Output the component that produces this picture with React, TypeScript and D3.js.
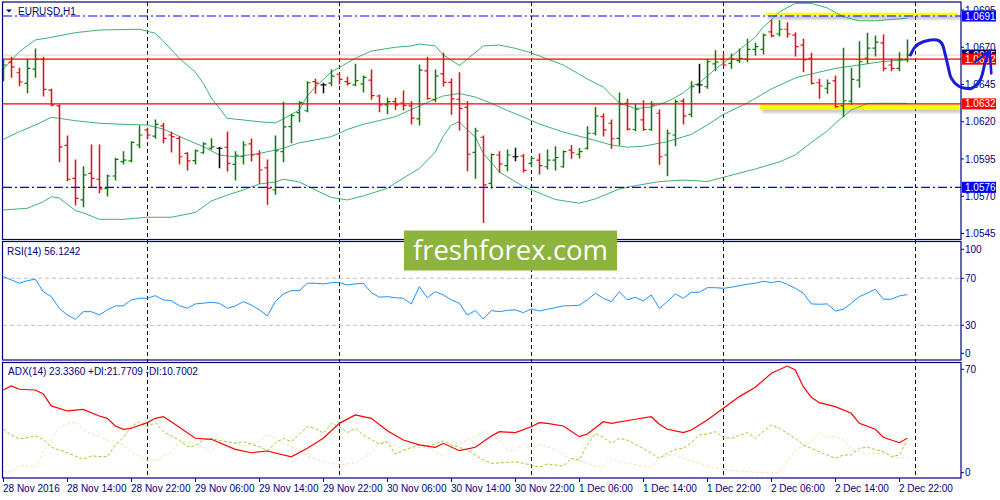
import { useEffect, useRef } from "react"
import * as d3 from "d3"

// ---- chart data (EURUSD H1, 28 Nov 06:00 .. 2 Dec 23:00) ----
const timeLabels = [
  "28 Nov 2016", "28 Nov 14:00", "28 Nov 22:00", "29 Nov 06:00", "29 Nov 14:00",
  "29 Nov 22:00", "30 Nov 06:00", "30 Nov 14:00", "30 Nov 22:00", "1 Dec 06:00",
  "1 Dec 14:00", "1 Dec 22:00", "2 Dec 06:00", "2 Dec 14:00", "2 Dec 22:00",
]

const barOpen = [
  1.06514, 1.06601, 1.06529, 1.06458, 1.06554, 1.06619, 1.06413, 1.06306, 1.06042, 1.0582,
  1.05675, 1.05854, 1.05814, 1.05753, 1.05836, 1.05932, 1.05937, 1.06044, 1.06145, 1.06104,
  1.06172, 1.06111, 1.06089, 1.05988, 1.05939, 1.05992, 1.06022, 1.06022, 1.06029, 1.05914,
  1.05965, 1.06051, 1.05982, 1.0589, 1.05742, 1.05999, 1.06167, 1.06261, 1.06274, 1.06469,
  1.06447, 1.0646, 1.06519, 1.06469, 1.06447, 1.06454, 1.0648, 1.06373, 1.06313, 1.06335,
  1.06326, 1.06306, 1.06219, 1.06541, 1.06349, 1.06521, 1.06464, 1.06351, 1.06297, 1.05995,
  1.06096, 1.05787, 1.05977, 1.05905, 1.05965, 1.0597, 1.05921, 1.05943, 1.05898, 1.05943,
  1.05898, 1.0601, 1.05982, 1.06022, 1.06123, 1.06234, 1.0619, 1.06089, 1.06324, 1.06148,
  1.06212, 1.06148, 1.06257, 1.05977, 1.06111, 1.06339, 1.0625, 1.06447, 1.06435, 1.06588,
  1.06619, 1.06592, 1.0661, 1.06619, 1.06686, 1.06686, 1.06803, 1.06789, 1.06821, 1.06782,
  1.06715, 1.06626, 1.06462, 1.06425, 1.06474, 1.06306, 1.06339, 1.0648, 1.06628, 1.06695,
  1.06729, 1.06581, 1.06559, 1.06619,
]
const barHigh = [
  1.06619, 1.06633, 1.06559, 1.06619, 1.06688, 1.06633, 1.06418, 1.06313, 1.06104, 1.05943,
  1.05898, 1.06044, 1.06044, 1.05843, 1.05955, 1.05999, 1.06066, 1.06172, 1.06156, 1.06212,
  1.0619, 1.06129, 1.061, 1.05992, 1.0601, 1.06059, 1.06086, 1.06029, 1.06131, 1.05999,
  1.06066, 1.06084, 1.06006, 1.05943, 1.06104, 1.06331, 1.0625, 1.06335, 1.06469, 1.06485,
  1.06458, 1.06547, 1.06521, 1.06498, 1.06586, 1.06507, 1.06547, 1.0638, 1.06358, 1.06358,
  1.06407, 1.06335, 1.06581, 1.06633, 1.06547, 1.0666, 1.06487, 1.06529, 1.06335, 1.06156,
  1.06104, 1.05984, 1.05999, 1.0601, 1.06022, 1.0598, 1.05963, 1.05984, 1.0601, 1.06033,
  1.06004, 1.06041, 1.06021, 1.06167, 1.06296, 1.06252, 1.06212, 1.06393, 1.06351, 1.06319,
  1.06341, 1.06335, 1.06279, 1.06145, 1.06346, 1.06353, 1.06469, 1.06586, 1.06619, 1.06677,
  1.06648, 1.06655, 1.06688, 1.06754, 1.06727, 1.06789, 1.06883, 1.06878, 1.06865, 1.06798,
  1.06754, 1.0666, 1.06485, 1.0648, 1.06507, 1.06693, 1.06559, 1.06737, 1.06794, 1.06776,
  1.06782, 1.06619, 1.06664, 1.06749,
]
const barLow = [
  1.06476, 1.06498, 1.06442, 1.06395, 1.06498, 1.06373, 1.06308, 1.05932, 1.05804, 1.05641,
  1.0563, 1.05764, 1.05724, 1.05702, 1.05809, 1.05916, 1.05932, 1.06026, 1.06086, 1.06089,
  1.06059, 1.05997, 1.05916, 1.05876, 1.05916, 1.05988, 1.06015, 1.05892, 1.05869, 1.05809,
  1.05916, 1.05937, 1.05787, 1.05646, 1.05713, 1.05932, 1.06059, 1.062, 1.06268, 1.06391,
  1.06395, 1.06442, 1.06454, 1.06447, 1.06442, 1.064, 1.06351, 1.06268, 1.06254, 1.06284,
  1.06279, 1.06185, 1.06178, 1.06351, 1.06335, 1.0644, 1.0625, 1.06145, 1.05871, 1.0582,
  1.05524, 1.05753, 1.05861, 1.05871, 1.05939, 1.05863, 1.05898, 1.05849, 1.05883, 1.05876,
  1.05894, 1.05955, 1.05957, 1.06015, 1.06111, 1.06104, 1.06022, 1.06044, 1.06145, 1.0614,
  1.06143, 1.06143, 1.05914, 1.05838, 1.06039, 1.06185, 1.06234, 1.06395, 1.06425, 1.06543,
  1.06576, 1.06559, 1.06597, 1.06603, 1.06648, 1.06655, 1.06771, 1.06776, 1.06767, 1.06641,
  1.06536, 1.06454, 1.06358, 1.06391, 1.06297, 1.06234, 1.06317, 1.06431, 1.06592, 1.06641,
  1.06543, 1.06543, 1.06543, 1.06603,
]
const barClose = [
  1.06581, 1.06568, 1.06467, 1.06559, 1.06619, 1.06418, 1.06313, 1.06031, 1.05814, 1.05686,
  1.05843, 1.0582, 1.05749, 1.05836, 1.05948, 1.05943, 1.06061, 1.06111, 1.06111, 1.06183,
  1.06089, 1.061, 1.05965, 1.05937, 1.06004, 1.06051, 1.06031, 1.06022, 1.05921, 1.05975,
  1.06044, 1.05977, 1.05876, 1.05753, 1.06004, 1.06165, 1.06241, 1.06328, 1.06462, 1.0646,
  1.06447, 1.06507, 1.06485, 1.06458, 1.06476, 1.06498, 1.06376, 1.06313, 1.06335, 1.06313,
  1.06309, 1.06225, 1.06547, 1.06356, 1.06507, 1.06465, 1.06353, 1.0629, 1.05982, 1.06138,
  1.05776, 1.0598, 1.05916, 1.05977, 1.05965, 1.05874, 1.05955, 1.05906, 1.05943, 1.05959,
  1.05999, 1.05992, 1.05999, 1.06123, 1.06239, 1.06145, 1.06086, 1.06319, 1.0615, 1.06284,
  1.06148, 1.06313, 1.05965, 1.06123, 1.06335, 1.06239, 1.06435, 1.06447, 1.06603, 1.06601,
  1.06581, 1.06619, 1.06626, 1.06686, 1.06704, 1.06782, 1.06776, 1.06821, 1.06789, 1.06704,
  1.06615, 1.06458, 1.0644, 1.06458, 1.06301, 1.06341, 1.06484, 1.06603, 1.06695, 1.06735,
  1.06559, 1.06559, 1.06619, 1.06648,
]

// Bollinger bands as [bar, price]
const bbUpper: [number, number][] = [
  [0, 1.06552], [2, 1.0667], [4, 1.06749], [6, 1.06767], [9, 1.06798], [12, 1.06816], [17, 1.06821],
  [19, 1.06794], [20, 1.06742], [22, 1.06626], [24, 1.06534], [25, 1.06458], [26, 1.0636], [28, 1.06223],
  [30, 1.06212], [32, 1.062], [34, 1.06192], [35, 1.06219], [37, 1.06279], [38, 1.06373], [39, 1.06433],
  [41, 1.06534], [44, 1.06626], [46, 1.06675], [49, 1.067], [51, 1.06709], [52, 1.06722], [54, 1.06709],
  [55, 1.06648], [57, 1.06578], [58, 1.06621], [60, 1.06709], [62, 1.06715], [64, 1.06693], [66, 1.06662],
  [70, 1.06581], [72, 1.06519], [73, 1.06487], [75, 1.06433], [77, 1.06326], [79, 1.06289], [81, 1.06299],
  [83, 1.06335], [85, 1.06393], [86, 1.0644], [87, 1.0646], [88, 1.06507], [89, 1.06554], [90, 1.06594],
  [92, 1.06682], [94, 1.06769], [95, 1.06836], [96, 1.06883], [97, 1.06937], [99, 1.06995], [101, 1.06995],
  [103, 1.06964], [105, 1.06905], [107, 1.06878], [109, 1.06878], [113, 1.06895],
]
const bbMiddle: [number, number][] = [
  [0, 1.06082], [2, 1.06133], [4, 1.06178], [6, 1.0623], [7, 1.06223], [9, 1.06207], [12, 1.0619],
  [15, 1.06183], [18, 1.06178], [20, 1.06151], [23, 1.06078], [25, 1.06033], [27, 1.05977], [29, 1.05965],
  [32, 1.05987], [35, 1.06022], [37, 1.06059], [39, 1.06078], [41, 1.061], [43, 1.06148], [45, 1.06183],
  [47, 1.06208], [49, 1.06234], [51, 1.06282], [54, 1.06353], [55, 1.06373], [57, 1.0639], [59, 1.06366],
  [61, 1.06324], [63, 1.06276], [65, 1.06232], [67, 1.06185], [70, 1.06131], [73, 1.06089], [76, 1.06044],
  [78, 1.06029], [80, 1.06036], [83, 1.06066], [86, 1.06115], [88, 1.06178], [90, 1.06249], [93, 1.06326],
  [96, 1.0642], [99, 1.06494], [101, 1.06521], [104, 1.06558], [107, 1.06581], [110, 1.06605], [113, 1.06615],
]
const bbLower: [number, number][] = [
  [0, 1.05608], [3, 1.05619], [5, 1.05663], [6, 1.05697], [7, 1.05688], [9, 1.05604], [10, 1.05588],
  [12, 1.05545], [15, 1.05545], [18, 1.05559], [21, 1.05559], [24, 1.05591], [26, 1.05668], [28, 1.05708],
  [30, 1.05742], [32, 1.05782], [34, 1.05796], [35, 1.05814], [37, 1.05796], [39, 1.05742], [41, 1.05692],
  [43, 1.05675], [45, 1.05702], [48, 1.05753], [50, 1.05822], [52, 1.05886], [54, 1.05997], [55, 1.06104],
  [56, 1.06178], [57, 1.062], [58, 1.06145], [59, 1.06098], [60, 1.05988], [62, 1.05863], [65, 1.05765],
  [69, 1.05678], [72, 1.05653], [74, 1.05682], [77, 1.05749], [79, 1.05771], [82, 1.05798], [85, 1.05809],
  [88, 1.05799], [90, 1.05827], [94, 1.05883], [97, 1.0593], [99, 1.05977], [101, 1.06061], [103, 1.06138],
  [104, 1.0619], [106, 1.06279], [108, 1.06323], [110, 1.06324], [113, 1.06324],
]

const rsiValues = [
  71.4, 68.6, 65.8, 68.0, 69.2, 58.6, 54.4, 44.5, 38.8, 35.1, 41.6, 41.6, 38.8, 43.1, 46.5, 46.5,
  51.6, 53.0, 53.0, 55.2, 51.6, 51.0, 46.7, 44.5, 48.2, 48.8, 49.6, 48.8, 44.5, 46.5, 50.1, 47.3,
  43.1, 38.0, 50.1, 56.7, 59.5, 59.5, 65.8, 65.8, 65.2, 66.3, 66.3, 64.3, 65.2, 65.8, 57.8, 53.9,
  54.4, 53.5, 53.0, 48.2, 62.9, 53.5, 58.6, 55.8, 51.6, 48.8, 38.8, 42.5, 35.4, 42.5, 41.6, 42.8,
  43.1, 40.8, 43.9, 42.2, 43.7, 45.0, 46.5, 46.7, 47.1, 51.6, 57.3, 53.0, 50.1, 58.6, 51.6, 53.9,
  50.7, 55.8, 44.5, 50.1, 56.7, 53.0, 58.1, 58.1, 62.0, 62.0, 61.5, 62.4, 63.7, 64.9, 65.8, 67.5,
  66.3, 67.5, 64.9, 61.5, 57.3, 48.2, 47.9, 48.2, 42.2, 43.7, 48.8, 54.4, 57.3, 60.7, 52.2, 52.2,
  55.0, 56.1,
]

const adxValues: [number, number][] = [
  [0, 56.0], [1, 58.7], [2, 56.5], [4, 56.0], [5, 53.3], [6, 45.2], [8, 41.8], [10, 42.9], [12, 38.4],
  [13, 36.8], [14, 31.6], [15, 29.4], [16, 30.1], [18, 33.9], [19, 36.8], [20, 37.9], [21, 34.5], [24, 23.3],
  [26, 22.6], [29, 15.8], [31, 13.5], [33, 14.7], [36, 10.8], [38, 16.5], [40, 23.3], [42, 33.4], [44, 39.1],
  [46, 36.8], [48, 28.4], [50, 22.1], [52, 18.8], [54, 17.2], [55, 19.9], [57, 14.9], [59, 17.2], [61, 24.8],
  [62, 27.8], [64, 27.1], [66, 31.1], [67, 33.9], [68, 33.4], [70, 31.6], [72, 24.4], [73, 26.2], [75, 34.5],
  [76, 33.4], [79, 36.2], [81, 37.9], [82, 32.8], [83, 29.4], [85, 27.1], [86, 28.9], [88, 35.7], [90, 43.6],
  [92, 51.5], [94, 57.8], [96, 67.3], [98, 72.2], [99, 69.5], [100, 58.2], [101, 51.0], [102, 47.4],
  [104, 44.7], [106, 40.2], [107, 33.4], [109, 29.4], [110, 24.0], [112, 20.3], [113, 23.3],
]
const plusDi: [number, number][] = [
  [0, 29.4], [1, 25.5], [2, 22.8], [4, 24.8], [5, 22.6], [6, 17.2], [8, 13.5], [10, 9.1], [11, 11.3],
  [13, 10.8], [14, 18.8], [15, 23.7], [16, 31.1], [17, 34.5], [18, 31.1], [19, 33.9], [20, 27.8], [22, 22.1],
  [23, 17.6], [24, 18.1], [25, 22.1], [26, 23.3], [27, 21.7], [29, 19.9], [30, 21.0], [32, 17.6], [33, 14.9],
  [34, 19.9], [35, 23.3], [36, 21.0], [38, 31.1], [39, 30.1], [40, 26.7], [41, 33.4], [42, 31.1], [43, 27.1],
  [44, 30.1], [45, 25.5], [47, 19.4], [48, 21.0], [49, 12.7], [51, 17.2], [52, 18.8], [53, 17.6], [55, 21.5],
  [56, 18.8], [58, 15.4], [60, 8.6], [61, 6.4], [62, 6.6], [64, 7.4], [66, 5.2], [67, 3.7], [68, 5.9],
  [70, 4.5], [71, 9.7], [72, 8.6], [73, 18.8], [74, 26.7], [75, 24.0], [76, 19.9], [77, 23.3], [78, 22.1],
  [80, 16.5], [81, 13.1], [82, 9.7], [83, 13.1], [84, 15.8], [85, 16.5], [86, 20.3], [87, 25.5], [88, 26.2],
  [89, 27.8], [90, 23.7], [91, 23.3], [93, 27.1], [94, 23.3], [96, 32.3], [97, 30.1], [99, 23.3], [100, 18.8],
  [102, 14.2], [104, 9.7], [105, 12.0], [106, 12.0], [107, 16.5], [108, 17.2], [110, 14.2], [111, 10.8],
  [112, 12.0], [113, 21.8],
]
const minusDi: [number, number][] = [
  [0, 0.7], [1, 0.5], [2, 5.2], [4, 3.7], [5, 14.2], [6, 22.1], [7, 31.1], [9, 34.5], [10, 29.4], [11, 26.2],
  [12, 24.8], [13, 22.1], [15, 18.8], [16, 13.5], [18, 8.6], [19, 8.1], [21, 14.2], [22, 21.0], [24, 19.9],
  [25, 17.2], [26, 13.1], [27, 21.7], [29, 20.3], [30, 18.1], [32, 21.0], [33, 26.2], [34, 23.3], [35, 19.9],
  [37, 15.4], [38, 11.3], [40, 7.4], [42, 5.2], [44, 6.8], [45, 9.7], [46, 13.5], [47, 19.9], [48, 21.0],
  [50, 15.8], [51, 16.5], [53, 17.2], [55, 10.8], [56, 17.6], [58, 22.1], [60, 27.8], [61, 25.5], [62, 22.1],
  [63, 15.8], [64, 14.9], [65, 19.9], [66, 15.4], [67, 19.4], [69, 15.4], [71, 9.1], [73, 6.4], [74, 4.5],
  [75, 4.1], [76, 9.7], [77, 7.4], [80, 4.5], [81, 3.7], [82, 10.6], [84, 12.5], [85, 9.7], [87, 6.4],
  [89, 3.0], [91, 1.4], [94, 0.3], [96, 0.2], [97, 0.3], [98, 7.4], [99, 15.4], [101, 21.0], [102, 26.7],
  [103, 24.0], [104, 24.8], [105, 22.1], [106, 16.5], [107, 14.2], [108, 12.5], [110, 13.1], [111, 12.0],
  [112, 9.7], [113, 10.7],
]

const priceTicks = [1.0545, 1.057, 1.0595, 1.062, 1.0645, 1.067, 1.0695]
const redLevels = [1.0662, 1.0632]
const blueLevels = [1.0691, 1.0576]
const bidPrice = 1.06648
const separatorBars = [18, 42, 66, 90, 114]
const rsiLevels = [70, 30]
const rsiTicks = [100, 70, 30, 0]
const adxTicks = [70, 0]

// yellow marker strokes and the hand-drawn forecast (bar, price)
const markerFrom = [95.3, 94.6]
const markerTo = [119.3, 119.5]
const markerPrice = [1.06921, 1.063]
const sketchBars = [113.4, 114, 115, 116.7, 117.3, 117.7, 118.1, 118.5, 119.4, 120.2, 121.05, 122.1, 122.7, 123.1]
const sketchPrices = [1.06648, 1.06704, 1.06737, 1.06749, 1.06727, 1.0666, 1.0657, 1.06492, 1.0644, 1.06425, 1.06425, 1.0648, 1.06592, 1.0666]
const arrowBars = [121.5, 123.3, 123.5]
const arrowPrices = [1.06603, 1.06677, 1.06525]

const NAVY = "#000080"
const FONT = "'Liberation Sans', Arial, sans-serif"

export default function App() {
  const svgRef = useRef<SVGSVGElement>(null)

  useEffect(() => {
    if (!svgRef.current) return
    const svg = d3.select(svgRef.current)
    svg.selectAll("*").remove()

    const left = 3
    const right = 961
    const main = { top: 2, bottom: 239.5 }
    const rsiBox = { top: 241.5, bottom: 360 }
    const adxBox = { top: 362.5, bottom: 478 }

    const x = d3.scaleLinear().domain([0, 113]).range([3.3, 907.3])
    const y = d3.scaleLinear().domain([1.0576, 1.0691]).range([187.3, 16])
    const yRsi = d3.scaleLinear().domain([0, 100]).range([360.6, 243])
    const yAdx = d3.scaleLinear().domain([0, 70]).range([472.7, 369.3])

    svg.append("rect").attr("width", 1000).attr("height", 500).attr("fill", "#fff")

    const defs = svg.append("defs")
    const clips: [string, number, number][] = [
      ["clip-main", main.top, main.bottom],
      ["clip-rsi", rsiBox.top, rsiBox.bottom],
      ["clip-adx", adxBox.top, adxBox.bottom],
    ]
    clips.forEach(([id, t, b]) => {
      defs.append("clipPath").attr("id", id)
        .append("rect").attr("x", left).attr("y", t).attr("width", right - left).attr("height", b - t)
    })
    defs.append("filter").attr("id", "blur").attr("x", "-10%").attr("y", "-100%").attr("width", "120%").attr("height", "300%")
      .append("feGaussianBlur").attr("stdDeviation", 1.6)

    // period separators
    svg.append("g").selectAll("line").data(separatorBars).enter().append("line")
      .attr("x1", (d) => Math.round(x(d)) + 0.5).attr("x2", (d) => Math.round(x(d)) + 0.5)
      .attr("y1", main.top).attr("y2", adxBox.bottom)
      .attr("stroke", NAVY).attr("stroke-width", 1).attr("stroke-dasharray", "4,3")

    // ---------- main panel ----------
    const gMain = svg.append("g").attr("clip-path", "url(#clip-main)")

    gMain.append("line")
      .attr("x1", left).attr("x2", right).attr("y1", y(bidPrice)).attr("y2", y(bidPrice))
      .attr("stroke", "#d3d3d3").attr("stroke-width", 1)

    // yellow markers with a soft shadow
    markerPrice.forEach((p, i) => {
      const w = i === 0 ? 3.4 : 4.8
      gMain.append("rect")
        .attr("x", x(markerFrom[i]) + 2).attr("width", x(markerTo[i]) - x(markerFrom[i]) + 1)
        .attr("y", y(p) + w / 2).attr("height", 3)
        .attr("fill", "#7a7a7a").attr("opacity", 0.55).attr("filter", "url(#blur)")
      gMain.append("line")
        .attr("x1", x(markerFrom[i])).attr("x2", x(markerTo[i]))
        .attr("y1", y(p)).attr("y2", y(p))
        .attr("stroke", "#ffff00").attr("stroke-width", w)
    })

    const bandLine = d3.line<[number, number]>().x((d) => x(d[0])).y((d) => y(d[1]))
    ;[bbUpper, bbMiddle, bbLower].forEach((band) => {
      gMain.append("path").datum(band)
        .attr("fill", "none").attr("stroke", "#3cb371").attr("stroke-width", 1).attr("d", bandLine)
    })

    // OHLC bars
    const bars = d3.range(barOpen.length)
    const barColor = (i: number) =>
      barClose[i] > barOpen[i] ? "#008000" : barClose[i] < barOpen[i] ? "#ff0000" : "#000000"
    const gBars = gMain.append("g").attr("stroke-width", 1.5)
    bars.forEach((i) => {
      const cx = Math.round(x(i)) + 0.5
      const col = barColor(i)
      gBars.append("line").attr("x1", cx).attr("x2", cx)
        .attr("y1", y(barHigh[i]) - 0.5).attr("y2", y(barLow[i]) + 0.5).attr("stroke", col)
      gBars.append("line").attr("x1", cx - 3).attr("x2", cx)
        .attr("y1", y(barOpen[i])).attr("y2", y(barOpen[i])).attr("stroke", col).attr("stroke-width", 1.2)
      gBars.append("line").attr("x1", cx).attr("x2", cx + 3)
        .attr("y1", y(barClose[i])).attr("y2", y(barClose[i])).attr("stroke", col).attr("stroke-width", 1.2)
    })

    gMain.selectAll(".red-level").data(redLevels).enter().append("line")
      .attr("x1", left).attr("x2", right).attr("y1", (d) => y(d)).attr("y2", (d) => y(d))
      .attr("stroke", "#ff0000").attr("stroke-width", 1.2)
    gMain.selectAll(".blue-level").data(blueLevels).enter().append("line")
      .attr("x1", left).attr("x2", right).attr("y1", (d) => y(d)).attr("y2", (d) => y(d))
      .attr("stroke", "#0000ff").attr("stroke-width", 1.2).attr("stroke-dasharray", "9,3,2,3")

    // price scale
    const gAxis = svg.append("g").attr("font-family", FONT).attr("font-size", 10).attr("fill", NAVY)
    priceTicks.forEach((p) => {
      gAxis.append("line").attr("x1", right).attr("x2", right + 3).attr("y1", y(p)).attr("y2", y(p))
        .attr("stroke", NAVY)
      gAxis.append("text").attr("x", right + 4).attr("y", y(p) + 3.6).text(p.toFixed(4))
    })
    const priceBox = (p: number, fill: string, label: string) => {
      gAxis.append("rect").attr("x", right + 1).attr("y", y(p) - 5.5).attr("width", 34).attr("height", 11)
        .attr("fill", fill)
      gAxis.append("text").attr("x", right + 4).attr("y", y(p) + 3.6).attr("fill", "#fff").text(label)
    }
    priceBox(bidPrice, "#0a0a6e", bidPrice.toFixed(4))
    redLevels.forEach((p) => priceBox(p, "#ff0000", p.toFixed(4)))
    blueLevels.forEach((p) => priceBox(p, "#0000ff", p.toFixed(4)))

    // title
    svg.append("path").attr("d", "M6,9.5 L12,9.5 L9,12.5 Z").attr("fill", NAVY)
    svg.append("text").attr("x", 18).attr("y", 14.5).attr("font-family", FONT).attr("font-size", 10)
      .attr("fill", NAVY).text("EURUSD,H1")

    // ---------- RSI ----------
    const gRsi = svg.append("g").attr("clip-path", "url(#clip-rsi)")
    gRsi.selectAll("line").data(rsiLevels).enter().append("line")
      .attr("x1", left).attr("x2", right).attr("y1", (d) => yRsi(d)).attr("y2", (d) => yRsi(d))
      .attr("stroke", "#c0c0c0").attr("stroke-dasharray", "4,3")
    gRsi.append("path").datum(rsiValues)
      .attr("fill", "none").attr("stroke", "#1e90ff").attr("stroke-width", 1)
      .attr("d", d3.line<number>().x((_, i) => x(i)).y((d) => yRsi(d)))
    svg.append("text").attr("x", 7).attr("y", 255.3).attr("font-family", FONT).attr("font-size", 10)
      .attr("fill", NAVY).text("RSI(14) 56.1242")
    rsiTicks.forEach((v) => {
      const ty = Math.max(rsiBox.top + 7.8, Math.min(rsiBox.bottom - 6.7, yRsi(v)))
      gAxis.append("line").attr("x1", right).attr("x2", right + 3).attr("y1", ty).attr("y2", ty).attr("stroke", NAVY)
      gAxis.append("text").attr("x", right + 4).attr("y", ty + 3.6).text(String(v))
    })

    // ---------- ADX ----------
    const gAdx = svg.append("g").attr("clip-path", "url(#clip-adx)")
    const adxLine = d3.line<[number, number]>().x((d) => x(d[0])).y((d) => yAdx(d[1]))
    gAdx.append("path").datum(minusDi)
      .attr("fill", "none").attr("stroke", "#f5deb3").attr("stroke-width", 1).attr("stroke-dasharray", "3,2")
      .attr("d", adxLine)
    gAdx.append("path").datum(plusDi)
      .attr("fill", "none").attr("stroke", "#9acd32").attr("stroke-width", 1).attr("stroke-dasharray", "3,2")
      .attr("d", adxLine)
    gAdx.append("path").datum(adxValues)
      .attr("fill", "none").attr("stroke", "#ff0000").attr("stroke-width", 1.2).attr("d", adxLine)
    svg.append("text").attr("x", 8).attr("y", 375.3).attr("font-family", FONT).attr("font-size", 10)
      .attr("fill", NAVY).text("ADX(14) 23.3360 +DI:21.7709 -DI:10.7002")
    adxTicks.forEach((v) => {
      gAxis.append("line").attr("x1", right).attr("x2", right + 3).attr("y1", yAdx(v)).attr("y2", yAdx(v)).attr("stroke", NAVY)
      gAxis.append("text").attr("x", right + 4).attr("y", yAdx(v) + 3.6).text(String(v))
    })

    // panel frames
    ;[main, rsiBox, adxBox].forEach((b) => {
      svg.append("rect").attr("x", left - 0.5).attr("y", b.top).attr("width", right - left + 0.5)
        .attr("height", b.bottom - b.top).attr("fill", "none").attr("stroke", NAVY).attr("stroke-width", 1.2)
    })

    // time axis
    timeLabels.forEach((t, k) => {
      const tx = Math.round(x(k * 8)) + 0.5
      gAxis.append("line").attr("x1", tx).attr("x2", tx).attr("y1", adxBox.bottom).attr("y2", adxBox.bottom + 4)
        .attr("stroke", NAVY)
      gAxis.append("text").attr("x", tx - 0.5).attr("y", 491.5).text(t)
    })

    // hand-drawn forecast
    const sketch = d3.line<number>().x((d) => x(d)).y((_, i) => y(sketchPrices[i])).curve(d3.curveCatmullRom)
    svg.append("path").datum(sketchBars)
      .attr("fill", "none").attr("stroke", "#1c1cd8").attr("stroke-width", 3).attr("stroke-linecap", "round")
      .attr("d", sketch)
    const arrow = d3.line<number>().x((d) => x(d)).y((_, i) => y(arrowPrices[i]))
    svg.append("path").datum(arrowBars)
      .attr("fill", "none").attr("stroke", "#1c1cd8").attr("stroke-width", 2.6).attr("stroke-linecap", "round")
      .attr("stroke-linejoin", "round").attr("d", arrow)

    // watermark
    svg.append("rect").attr("x", 404).attr("y", 230.5).attr("width", 213).attr("height", 40).attr("fill", "#8db43c")
    svg.append("text").attr("x", 510.5).attr("y", 260).attr("text-anchor", "middle")
      .attr("font-family", "'Open Sans', sans-serif").attr("font-size", 27.5).attr("fill", "#ffffff")
      .text("freshforex.com")
  }, [])

  return (
    <svg
      ref={svgRef}
      width={1000}
      height={500}
      style={{ position: "absolute", left: 0, top: 0, display: "block" }}
    ></svg>
  )
}
